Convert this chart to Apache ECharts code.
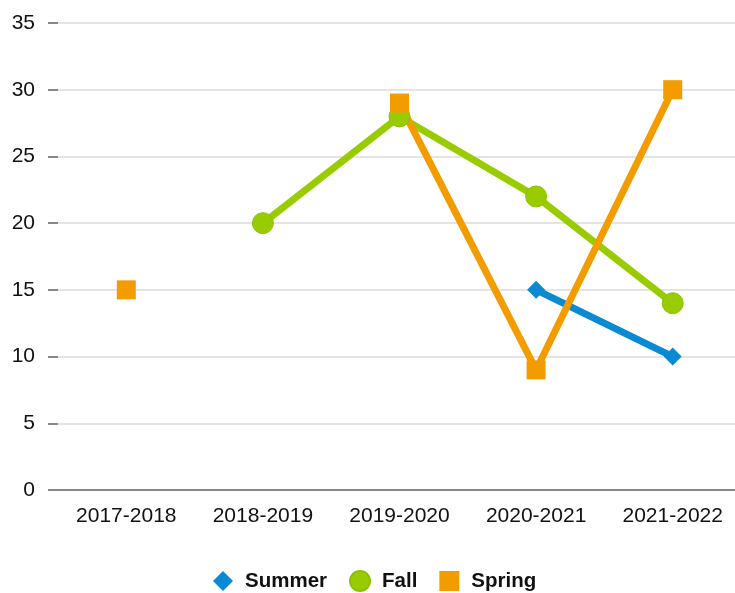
<!DOCTYPE html>
<html><head><meta charset="utf-8">
<script src="https://cdn.jsdelivr.net/npm/echarts@6/dist/echarts.min.js"></script>
<style>html,body{margin:0;padding:0;background:#fff;overflow:hidden}#c{width:741px;height:593px}</style>
</head><body><div id="c"></div>
<script>
var categories = ['2017-2018','2018-2019','2019-2020','2020-2021','2021-2022'];
var summer = [null, null, null, 15, 10];
var fall = [null, 20, 28, 22, 14];
var spring = [15, null, 29, 9, 30];
var yTicks = [0, 5, 10, 15, 20, 25, 30, 35];

var chart = echarts.init(document.getElementById('c'));
var font = 'Liberation Sans, Arial, sans-serif';
chart.setOption({
  animation: false,
  grid: {left: 58, right: 0, top: 23, height: 467, containLabel: false},
  legend: {
    top: 565, left: 208, itemGap: 22, itemWidth: 20, itemHeight: 20,
    textStyle: {fontFamily: font, fontSize: 20.5, fontWeight: 'bold', color: '#111', padding: [0, 0, 0, 7]},
    data: [{name:'Summer', icon:'diamond'}, {name:'Fall', icon:'circle'}, {name:'Spring', icon:'rect'}]
  },
  xAxis: {
    type: 'category', data: categories, boundaryGap: true,
    axisLine: {lineStyle: {color: '#888', width: 2}},
    axisTick: {alignWithLabel: true, length: 7, lineStyle: {color: '#888', width: 2}},
    axisLabel: {fontFamily: font, fontSize: 21, color: '#111', margin: 16}
  },
  yAxis: {
    type: 'value', min: yTicks[0], max: yTicks[yTicks.length-1], interval: 5,
    axisLine: {show: false},
    axisTick: {show: true, length: 10, lineStyle: {color: '#888', width: 2}},
    splitLine: {lineStyle: {color: '#e4e4e4', width: 2}},
    axisLabel: {fontFamily: font, fontSize: 21, color: '#111', margin: 23}
  },
  series: [
    {name: 'Summer', type: 'line', data: summer, symbol: 'diamond', symbolSize: 18,
     lineStyle: {width: 7, color: '#0a8ad2'}, itemStyle: {color: '#0a8ad2'}},
    {name: 'Fall', type: 'line', data: fall, symbol: 'circle', symbolSize: 21,
     lineStyle: {width: 7, color: '#99cc00'}, itemStyle: {color: '#99cc00', borderColor: '#8fc000', borderWidth: 1}},
    {name: 'Spring', type: 'line', data: spring, symbol: 'rect', symbolSize: 19,
     lineStyle: {width: 7, color: '#f39c00'}, itemStyle: {color: '#f39c00'}}
  ]
});
</script></body></html>
